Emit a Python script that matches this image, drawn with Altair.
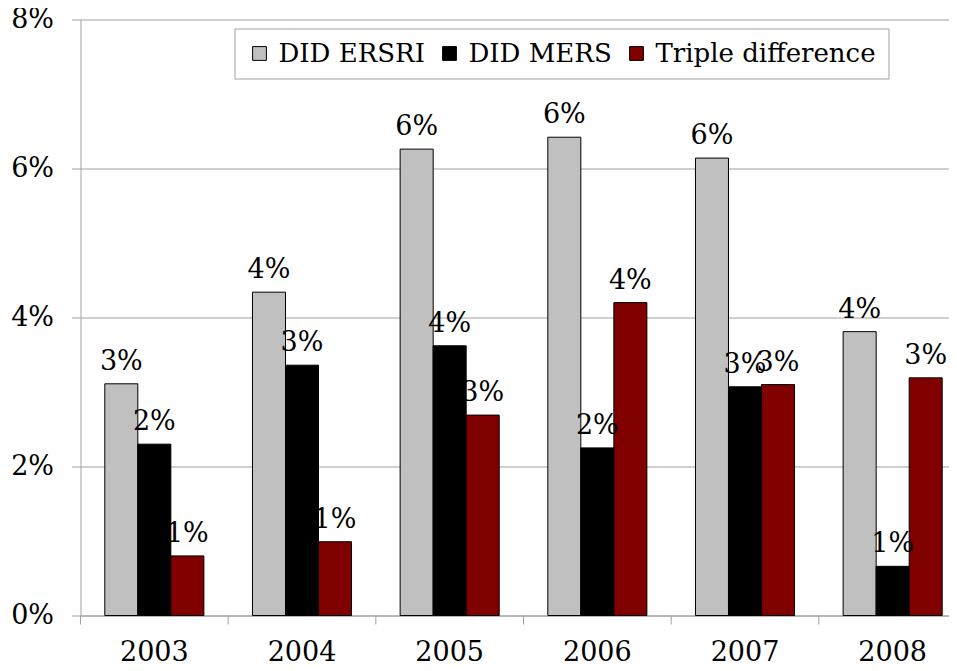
import altair as alt
import pandas as pd

years = ["2003", "2004", "2005", "2006", "2007", "2008"]
series = ["DID ERSRI", "DID MERS", "Triple difference"]
ersri = [0.0311, 0.0434, 0.0626, 0.0642, 0.0614, 0.0381]
mers = [0.0230, 0.0336, 0.0362, 0.0225, 0.0307, 0.0066]
triple = [0.0080, 0.0099, 0.0269, 0.0420, 0.0310, 0.0319]
colors = ["#c0c0c0", "#000000", "#800000"]
y_ticks = [0, 0.02, 0.04, 0.06, 0.08]

rows = []
for s, vals in zip(series, [ersri, mers, triple]):
    for yr, v in zip(years, vals):
        rows.append({"year": yr, "series": s, "value": v})
df = pd.DataFrame(rows)
df_years = pd.DataFrame({"year": years})

FONT = "DejaVu Serif"
GRAY = "#a0a0a0"

x_axis = alt.Axis(title=None, labelAngle=0, ticks=False, domainColor=GRAY,
                  labelFont=FONT, labelFontSize=27, labelColor="black",
                  labelBaseline="alphabetic", labelPadding=45, grid=False)
x_scale = alt.Scale(paddingInner=0, paddingOuter=0)
xoff = alt.XOffset("series:N", sort=series,
                   scale=alt.Scale(paddingInner=0, paddingOuter=0.736))
y_enc = alt.Y("value:Q", scale=alt.Scale(domain=[0, 0.08], nice=False),
              axis=alt.Axis(title=None, format=".0%", values=y_ticks, tickSize=9,
                            tickColor=GRAY, domainColor=GRAY, gridColor=GRAY,
                            grid=True, labelFont=FONT, labelFontSize=27,
                            labelColor="black", labelPadding=18))

bars = alt.Chart(df).mark_bar(stroke="black", strokeWidth=1).encode(
    x=alt.X("year:N", sort=years, scale=x_scale, axis=x_axis),
    xOffset=xoff,
    y=y_enc,
    color=alt.Color("series:N", sort=series,
                    scale=alt.Scale(domain=series, range=colors),
                    legend=alt.Legend(title=None, orient="none", legendX=154, legendY=9,
                                      direction="horizontal", symbolType="square",
                                      symbolSize=190, symbolStrokeColor="black",
                                      symbolStrokeWidth=1, labelFont=FONT,
                                      labelFontSize=26, labelColor="black",
                                      labelOffset=6, columnPadding=11, padding=12,
                                      strokeColor=GRAY, fillColor="white",
                                      labelLimit=0)),
)

labels = alt.Chart(df).mark_text(baseline="alphabetic", dy=-14, font=FONT,
                                 fontSize=27, color="black").encode(
    x=alt.X("year:N", sort=years, scale=x_scale, axis=x_axis),
    xOffset=xoff,
    y=alt.Y("value:Q"),
    text=alt.Text("value:Q", format=".0%"),
)

ticks = alt.Chart(df_years).mark_rule(color=GRAY, strokeWidth=1).encode(
    x=alt.X("year:N", sort=years, bandPosition=0, scale=x_scale, axis=x_axis),
    y=alt.value(596),
    y2=alt.value(605),
)

chart = alt.layer(bars, labels, ticks).properties(
    width=886, height=596,
    autosize=alt.AutoSizeParams(type="none"),
    padding={"left": 72.5, "top": 11.5, "right": -18, "bottom": 46},
).configure_view(stroke=None)

chart.save("out.html", embed_options={"renderer": "svg", "actions": False})
